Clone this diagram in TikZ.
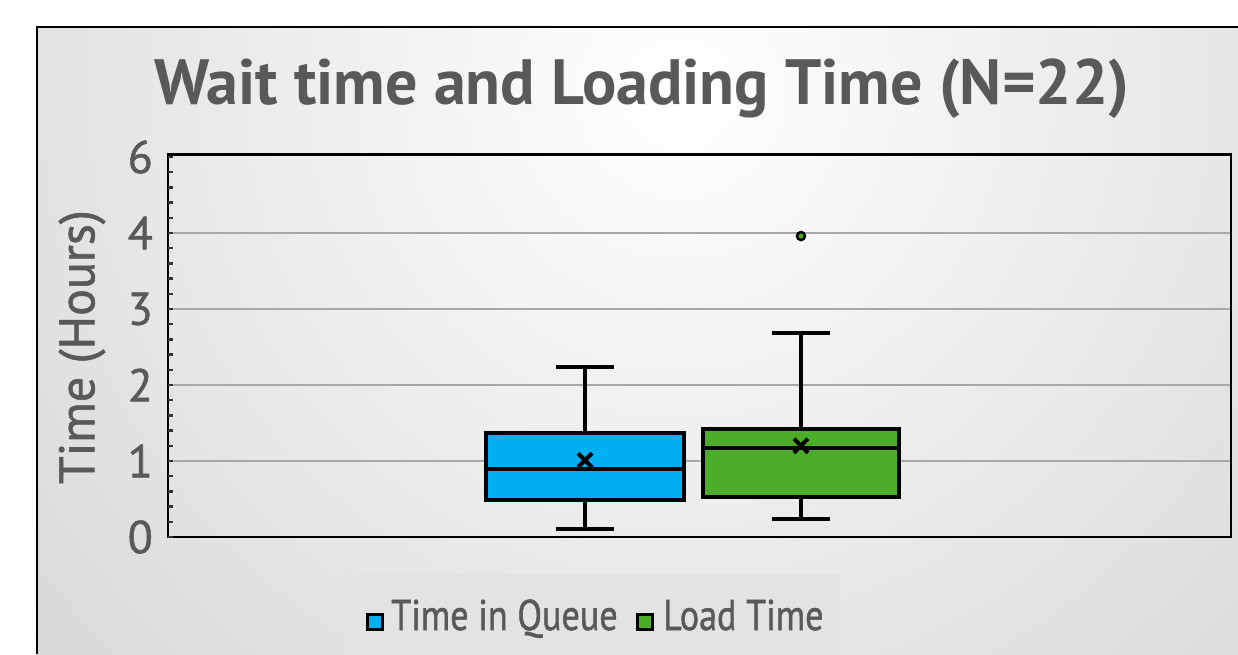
\documentclass[tikz,border=0pt]{standalone}
\usepackage{fontspec}
\setmainfont{PT Sans}
\newfontfamily\medfont[FakeBold=1.2]{PT Sans}
\usetikzlibrary{positioning}

\definecolor{txtgray}{HTML}{595959}
\definecolor{queueblue}{HTML}{00B0F0}
\definecolor{loadgreen}{HTML}{4BAD28}
\definecolor{gridgray}{HTML}{A8A8A8}
\definecolor{legbg}{HTML}{E3E3E3}

\tikzset{
  boxq/.style={draw=black, line width=4pt, fill=queueblue},
  boxl/.style={draw=black, line width=4pt, fill=loadgreen},
  whisk/.style={black, line width=4pt},
  ylab/.style={anchor=east, text=txtgray, inner sep=0pt, font=\fontsize{46}{46}\medfont},
  legsq/.style={draw=black, line width=3pt, minimum size=15pt, inner sep=0pt},
  legtxt/.style={text=txtgray, inner sep=0pt, font=\fontsize{43}{43}\medfont},
}

\begin{document}
\begin{tikzpicture}[x=1pt,y=1pt]
\useasboundingbox (0,0) rectangle (1238,654);
% background of the chart area
\begin{scope}
\clip (37,0) rectangle (1238,627);
\shade[inner color=white, outer color=black!28] (680,560) circle (1600);
\end{scope}
\draw[black, line width=2.5pt] (37,0) -- (37,627) -- (1238,627);

% title
\node[text=txtgray, anchor=base, inner sep=0pt, font=\fontsize{64}{64}\selectfont\bfseries] (title) at (642,549) {Wait time and Loading Time (N=22)};
\node[text=txtgray, rotate=90, inner sep=0pt, font=\fontsize{50}{50}\medfont] (ytitle) at (82,307) {Time (Hours)};

% plot, one unit = one hour
\begin{scope}[shift={(0,117)}, y=76pt]
\foreach \g in {1,2,3,4} {
  \draw[gridgray, line width=2pt] (168,\g) -- (1231,\g);
}
\draw[black, line width=2.5pt] (168,0) rectangle (1231,5.03);
\foreach \t in {0,0.2,...,5} {
  \draw[black!80, line width=2.5pt] (168,\t) -- ++(5pt,0);
}
\foreach \v/\t in {0/0,1/1,2/2,3/3,4/4,5/6} {
  \node[ylab] (lab\v) at (153,\v) {\t};
}

% time in queue
\draw[whisk] (585,1.37) -- (585,2.24);
\draw[whisk] (556,2.24) -- (614,2.24);
\draw[whisk] (585,0.49) -- (585,0.105);
\draw[whisk] (556,0.105) -- (614,0.105);
\draw[boxq] (486,0.49) rectangle (684,1.37);
\draw[whisk] (486,0.89) -- (684,0.89);
\draw[whisk] (585,1.01) ++(-7pt,-7pt) -- ++(14pt,14pt);
\draw[whisk] (585,1.01) ++(-7pt,7pt) -- ++(14pt,-14pt);

% load time
\draw[whisk] (801,1.42) -- (801,2.68);
\draw[whisk] (772,2.68) -- (830,2.68);
\draw[whisk] (801,0.53) -- (801,0.24);
\draw[whisk] (772,0.24) -- (830,0.24);
\draw[boxl] (703,0.53) rectangle (899,1.42);
\draw[whisk] (703,1.17) -- (899,1.17);
\draw[whisk] (801,1.2) ++(-7pt,-7pt) -- ++(14pt,14pt);
\draw[whisk] (801,1.2) ++(-7pt,7pt) -- ++(14pt,-14pt);
\draw[black, fill=loadgreen, line width=2.5pt] (801,3.96) circle (4pt);
\end{scope}

% legend
\fill[legbg] (347,-5) rectangle (840,80);
\node[legsq, fill=queueblue] (sqq) at (375,32) {};
\node[legtxt, anchor=base west] (txq) at (391,24) {\scalebox{0.84}[1]{Time in Queue}};
\node[legsq, fill=loadgreen] (sql) at (645,32) {};
\node[legtxt, anchor=base west] (txl) at (663,24) {\scalebox{0.84}[1]{Load Time}};
\end{tikzpicture}
\end{document}
